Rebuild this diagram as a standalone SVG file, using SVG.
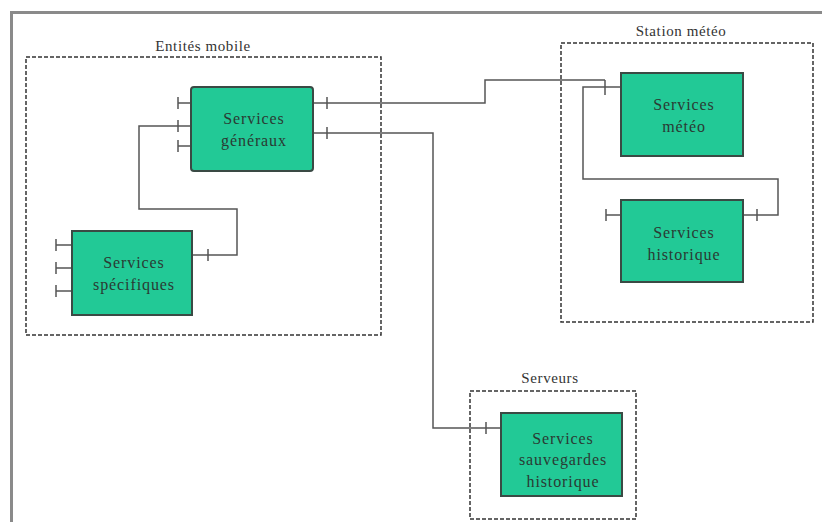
<svg xmlns="http://www.w3.org/2000/svg" width="822" height="522" viewBox="0 0 822 522">
  <style>
    .frame { fill: none; stroke: #8a8a8a; stroke-width: 3; }
    .zone { fill: none; stroke: #333; stroke-width: 1.5; stroke-dasharray: 4 2; }
    .zone-label { font-family: "Liberation Serif", "DejaVu Serif", serif; font-size: 15px; letter-spacing: 0.6px; fill: #333; text-anchor: middle; }
    .box { fill: #22c996; stroke: #3a4a44; stroke-width: 2; }
    .box-label { font-family: "Liberation Serif", "DejaVu Serif", serif; font-size: 16px; letter-spacing: 0.9px; fill: #2a3a33; text-anchor: middle; }
    .wire { fill: none; stroke: #555; stroke-width: 1.5; }
    .tick { stroke: #555; stroke-width: 1.5; }
  </style>

  <!-- outer page frame -->
  <path class="frame" d="M11.5,522 V12.5 H822"/>

  <!-- zones -->
  <g id="zone-entites">
    <rect class="zone" x="26" y="57" width="355" height="278"/>
    <text class="zone-label" x="203" y="51">Entités mobile</text>
  </g>
  <g id="zone-station">
    <rect class="zone" x="561" y="43" width="252" height="279"/>
    <text class="zone-label" x="681" y="36">Station météo</text>
  </g>
  <g id="zone-serveurs">
    <rect class="zone" x="470" y="391" width="166" height="128"/>
    <text class="zone-label" x="550" y="383">Serveurs</text>
  </g>

  <!-- connectors -->
  <g id="connectors">
    <!-- généraux (left middle) to spécifiques -->
    <polyline class="wire" points="191,126 139,126 139,209 237,209 237,255 192,255"/>
    <!-- généraux (right top) to météo -->
    <polyline class="wire" points="313,103 485,103 485,80 605,80"/>
    <line class="tick" x1="605" y1="80" x2="605" y2="95"/>
    <!-- météo to historique -->
    <polyline class="wire" points="621,87 583,87 583,179 778,179 778,215 743,215"/>
    <!-- généraux (right bottom) to sauvegardes -->
    <polyline class="wire" points="313,133 433,133 433,428 501,428"/>

    <!-- port stubs and ticks -->
    <line class="wire" x1="178" y1="103" x2="191" y2="103"/>
    <line class="wire" x1="178" y1="146" x2="191" y2="146"/>
    <line class="tick" x1="178" y1="97" x2="178" y2="109"/>
    <line class="tick" x1="178" y1="120" x2="178" y2="132"/>
    <line class="tick" x1="178" y1="140" x2="178" y2="152"/>
    <line class="tick" x1="327" y1="97" x2="327" y2="109"/>
    <line class="tick" x1="327" y1="127" x2="327" y2="139"/>

    <line class="wire" x1="56" y1="245" x2="72" y2="245"/>
    <line class="wire" x1="56" y1="268" x2="72" y2="268"/>
    <line class="wire" x1="56" y1="291" x2="72" y2="291"/>
    <line class="tick" x1="56" y1="239" x2="56" y2="251"/>
    <line class="tick" x1="56" y1="262" x2="56" y2="274"/>
    <line class="tick" x1="56" y1="285" x2="56" y2="297"/>
    <line class="tick" x1="208" y1="249" x2="208" y2="261"/>

    <line class="wire" x1="606" y1="215" x2="621" y2="215"/>
    <line class="tick" x1="606" y1="209" x2="606" y2="221"/>
    <line class="tick" x1="757" y1="209" x2="757" y2="221"/>

    <line class="tick" x1="486" y1="422" x2="486" y2="434"/>
  </g>

  <!-- service nodes -->
  <g id="services-generaux">
    <rect class="box" x="191" y="87" width="122" height="84" rx="3"/>
    <text class="box-label" x="254" y="124">Services</text>
    <text class="box-label" x="254" y="146">généraux</text>
  </g>
  <g id="services-specifiques">
    <rect class="box" x="72" y="231" width="120" height="84"/>
    <text class="box-label" x="134" y="268">Services</text>
    <text class="box-label" x="134" y="290">spécifiques</text>
  </g>
  <g id="services-meteo">
    <rect class="box" x="621" y="73" width="122" height="83"/>
    <text class="box-label" x="684" y="110">Services</text>
    <text class="box-label" x="684" y="132">météo</text>
  </g>
  <g id="services-historique">
    <rect class="box" x="621" y="200" width="122" height="82"/>
    <text class="box-label" x="684" y="238">Services</text>
    <text class="box-label" x="684" y="260">historique</text>
  </g>
  <g id="services-sauvegardes">
    <rect class="box" x="501" y="413" width="121" height="83"/>
    <text class="box-label" x="563" y="444">Services</text>
    <text class="box-label" x="563" y="465">sauvegardes</text>
    <text class="box-label" x="563" y="487">historique</text>
  </g>
</svg>
